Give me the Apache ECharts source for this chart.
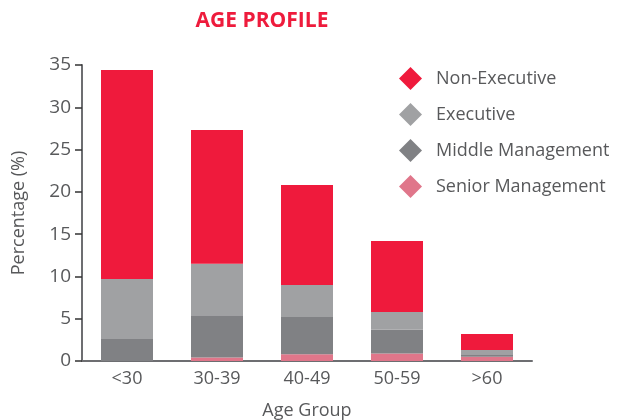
<!DOCTYPE html>
<html>
<head>
<meta charset="utf-8">
<script src="https://cdn.jsdelivr.net/npm/echarts@6/dist/echarts.min.js"></script>
<style>
  html, body { margin: 0; padding: 0; background: #fff; }
  #chart { width: 621px; height: 420px; }
</style>
</head>
<body>
<div id="chart"></div>
<script>
const ageGroups = ['<30', '30-39', '40-49', '50-59', '>60']
const seniorMgmt = [0, 0.4, 0.8, 0.9, 0.5]
const middleMgmt = [2.6, 5.0, 4.4, 2.8, 0.3]
const executive = [7.1, 6.1, 3.8, 2.1, 0.5]
const nonExecutive = [24.7, 15.8, 11.8, 8.4, 1.9]
const yTicks = [0, 35, 5]

const textColor = '#58595b'
const axisColor = '#6d6e71'
const font = 'Open Sans'

const chart = echarts.init(document.getElementById('chart'))

function bar (name, data, color) {
  return {
    name: name,
    type: 'bar',
    stack: 'total',
    barWidth: 52,
    itemStyle: { color: color },
    emphasis: { disabled: true },
    data: data
  }
}

const options = {
  animation: false,
  title: {
    text: 'AGE PROFILE',
    left: 257,
    top: 6,
    textAlign: 'center',
    textStyle: {
      color: '#ee1b3c',
      fontFamily: font,
      fontWeight: 'bold',
      fontSize: 21
    }
  },
  legend: {
    orient: 'vertical',
    left: 394,
    top: 62,
    itemGap: 13,
    itemWidth: 23,
    itemHeight: 23,
    icon: 'diamond',
    textStyle: {
      color: textColor,
      fontFamily: font,
      fontSize: 18,
      padding: [0, 0, 0, 9]
    },
    data: ['Non-Executive', 'Executive', 'Middle Management', 'Senior Management']
  },
  grid: {
    left: 82,
    top: 65,
    width: 450,
    height: 296,
    containLabel: false,
    outerBoundsMode: 'none'
  },
  xAxis: {
    type: 'category',
    data: ageGroups,
    name: 'Age Group',
    nameLocation: 'middle',
    nameGap: 41,
    nameTextStyle: { color: textColor, fontFamily: font, fontSize: 18 },
    axisLine: { lineStyle: { color: axisColor, width: 2 } },
    axisTick: { show: false },
    axisLabel: { color: textColor, fontFamily: font, fontSize: 18, margin: 9 }
  },
  yAxis: {
    type: 'value',
    min: yTicks[0],
    max: yTicks[1],
    interval: yTicks[2],
    name: 'Percentage (%)',
    nameLocation: 'middle',
    nameGap: 54,
    nameTextStyle: { color: textColor, fontFamily: font, fontSize: 18 },
    axisLine: { show: true, lineStyle: { color: axisColor, width: 2 } },
    axisTick: { show: true, length: 7, lineStyle: { color: '#333', width: 1.5 } },
    axisLabel: { color: textColor, fontFamily: font, fontSize: 19, margin: 11 },
    splitLine: { show: false }
  },
  series: [
    bar('Senior Management', seniorMgmt, '#e0768a'),
    bar('Middle Management', middleMgmt, '#808184'),
    bar('Executive', executive, '#a0a1a3'),
    bar('Non-Executive', nonExecutive, '#ef1a3c')
  ]
}
chart.setOption(options)
</script>
</body>
</html>
